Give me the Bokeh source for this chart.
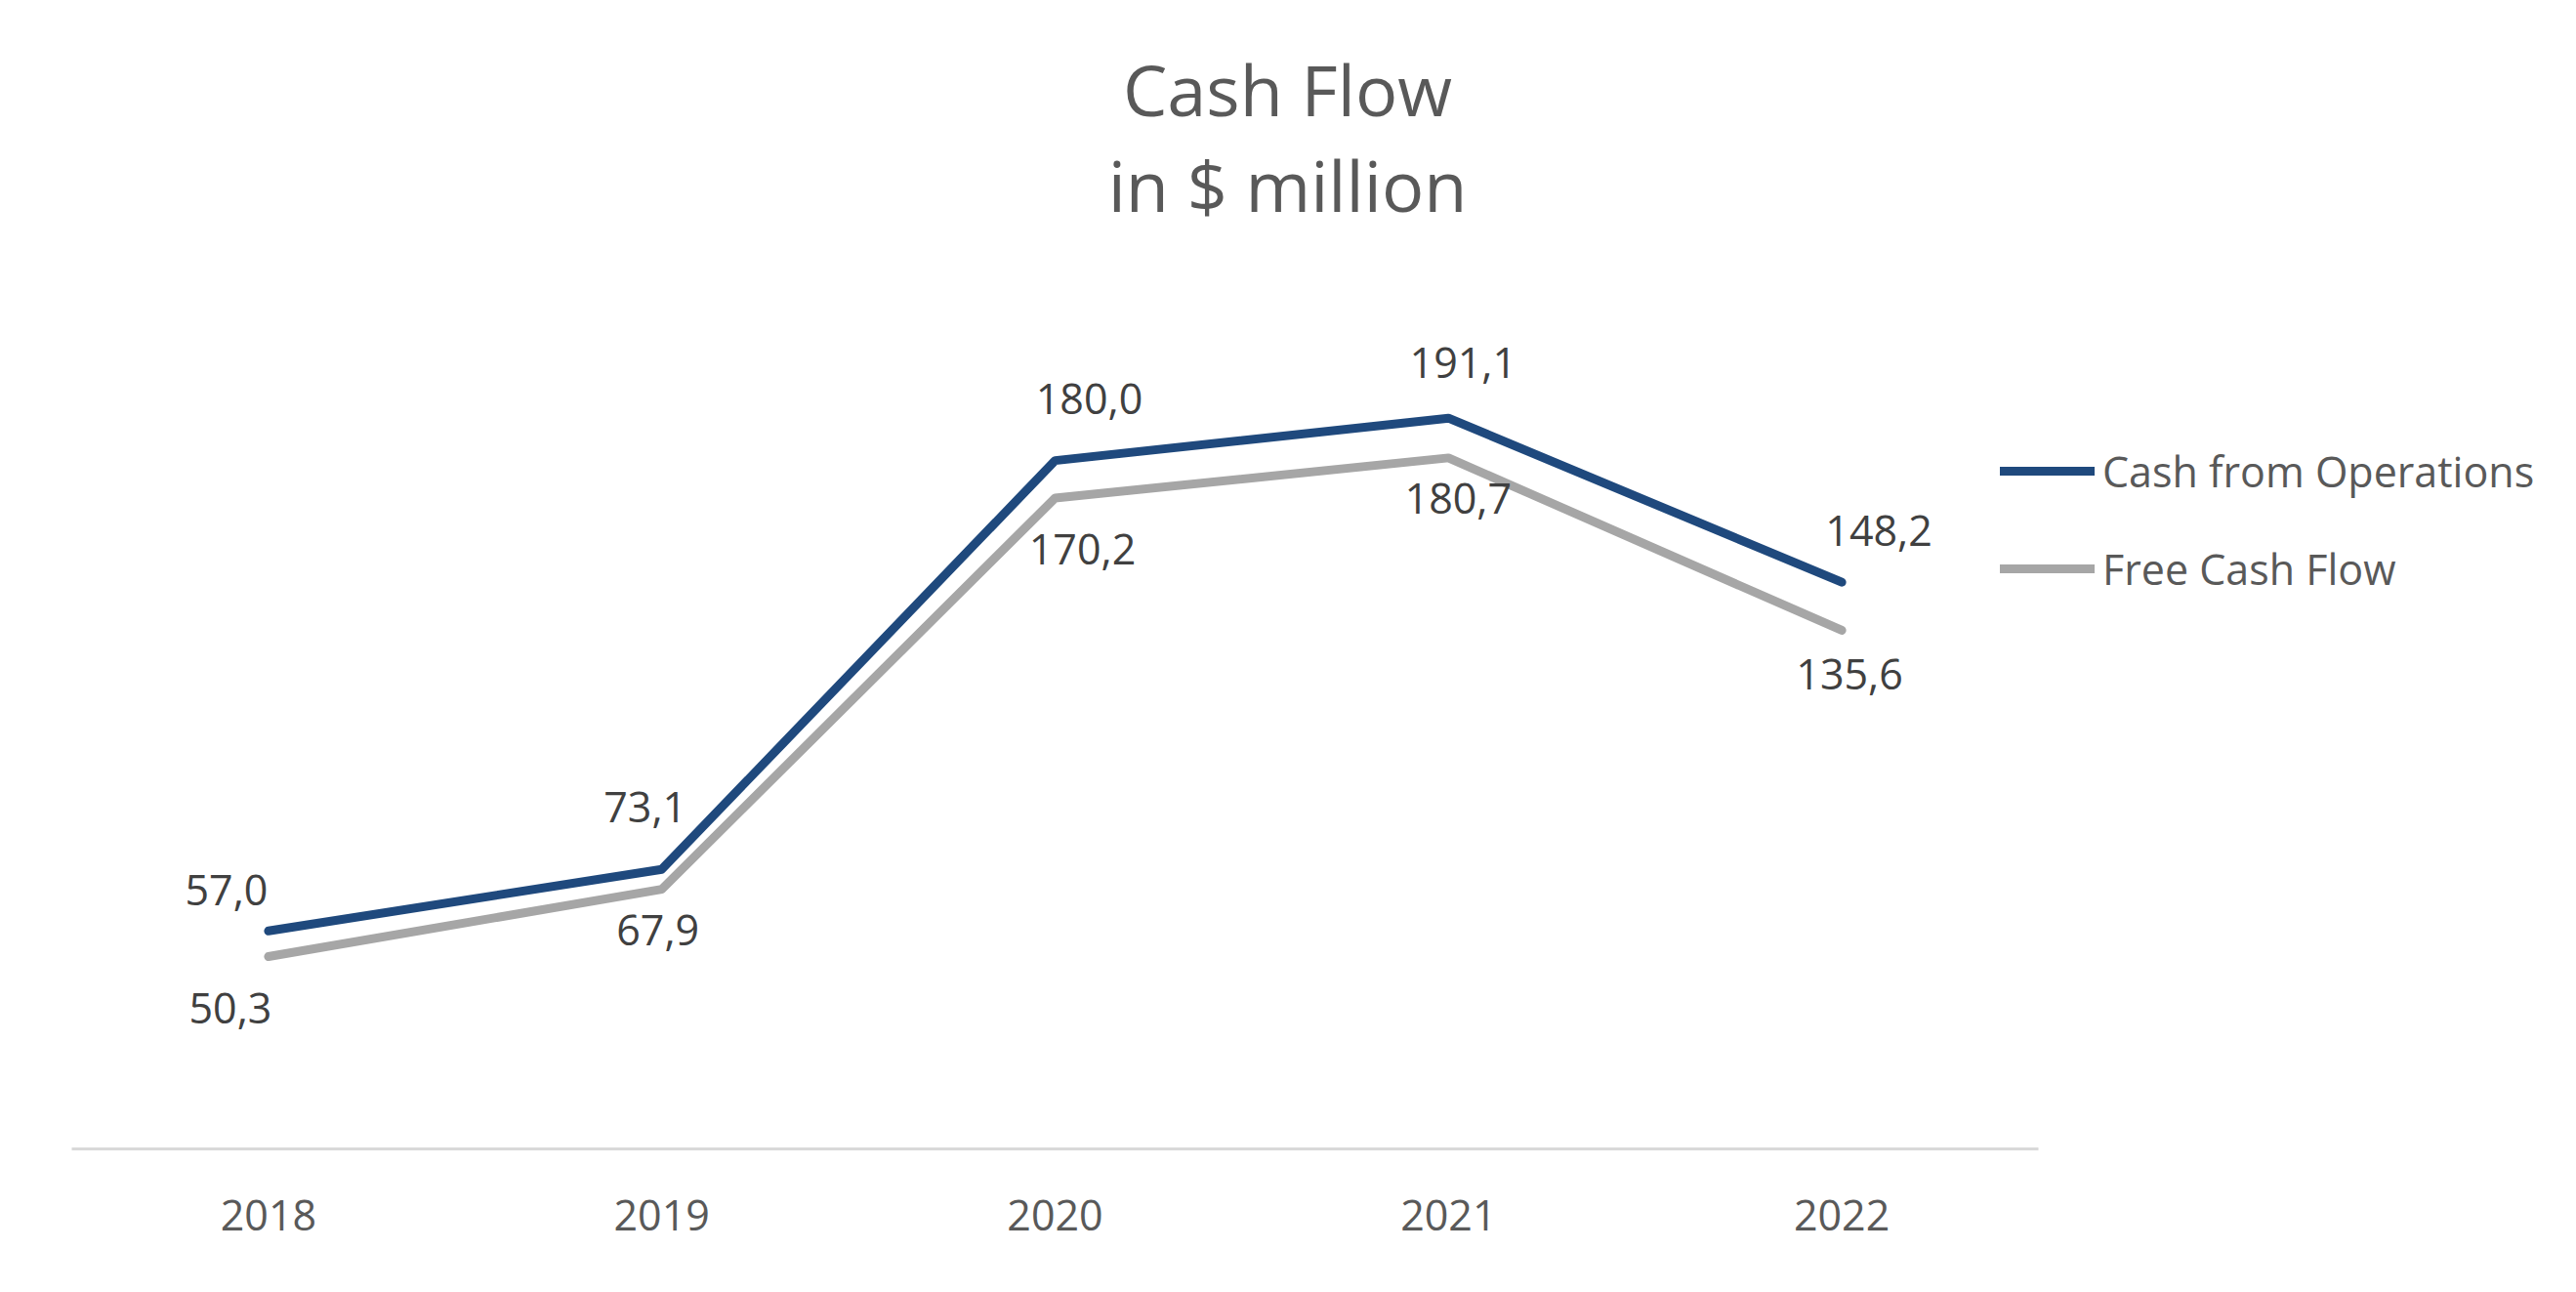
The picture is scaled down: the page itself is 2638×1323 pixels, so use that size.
from bokeh.plotting import figure
from bokeh.models import (ColumnDataSource, Range1d, Label, Legend, LegendItem, FixedTicker)
from bokeh.core.properties import value
from bokeh.embed import file_html
from bokeh.resources import INLINE

# ---- data ----
years = ["2018", "2019", "2020", "2021", "2022"]
cash_from_operations = [57.0, 73.1, 180.0, 191.1, 148.2]
free_cash_flow = [50.3, 67.9, 170.2, 180.7, 135.6]
series_names = ["Cash from Operations", "Free Cash Flow"]
title_lines = ["Cash Flow", "in $ million"]

# ---- style ----
FONT = "Open Sans"
BLUE = "#1F497D"
GREY = "#A6A6A6"
TEXT = "#595959"
LABEL = "#404040"

W, H = 2638, 1323
AXIS_Y = 1176            # pixel row of the category axis (from top)
BOTTOM = H - AXIS_Y
PLOT_L, PLOT_R = 73, 2087  # extent of the category axis line
n = len(years)
step = (PLOT_R - PLOT_L) / n
first = PLOT_L + step / 2
x_start = -first / step
x_end = x_start + W / step
k = 979 / 250            # pixels per $ million
y_end = AXIS_Y / k

p = figure(width=W, height=H, output_backend="svg", toolbar_location=None,
           x_range=Range1d(x_start, x_end), y_range=Range1d(0, y_end),
           y_axis_location=None,
           min_border_left=0, min_border_right=0, min_border_top=0,
           min_border_bottom=BOTTOM)
p.outline_line_color = None
p.xgrid.visible = False
p.ygrid.visible = False
p.background_fill_color = "white"
p.border_fill_color = "white"

idx = list(range(n))
ax = p.xaxis[0]
ax.ticker = FixedTicker(ticks=idx)
ax.major_label_overrides = {i: y for i, y in zip(idx, years)}
ax.bounds = (-0.5, n - 0.5)
ax.axis_line_color = "#D9D9D9"
ax.axis_line_width = 3
ax.major_tick_line_color = None
ax.minor_tick_line_color = None
ax.major_label_text_font = FONT
ax.major_label_text_font_size = "43px"
ax.major_label_text_color = TEXT
ax.major_label_standoff = 46

src = ColumnDataSource(dict(x=idx, cfo=cash_from_operations, fcf=free_cash_flow,
                            cfo_txt=[f"{v:.1f}".replace(".", ",") for v in cash_from_operations],
                            fcf_txt=[f"{v:.1f}".replace(".", ",") for v in free_cash_flow]))

r_fcf = p.line("x", "fcf", source=src, line_color=GREY, line_width=9,
               line_cap="round", line_join="round")
r_cfo = p.line("x", "cfo", source=src, line_color=BLUE, line_width=9,
               line_cap="round", line_join="round")

# label offsets (screen px, label centre relative to point; y down)
cfo_dx = [-43, -17, 35, 15, 38]
cfo_dy = [-40, -62, -61, -55, -51]
fcf_dx = [-39, -4, 28, 10, 8]
fcf_dy = [55, 44, 55, 44, 47]
shift = -2
src.data["cfo_dx"] = cfo_dx
src.data["cfo_dy"] = [d + shift for d in cfo_dy]
src.data["fcf_dx"] = fcf_dx
src.data["fcf_dy"] = [d + shift for d in fcf_dy]

p.text("x", "cfo", text="cfo_txt", source=src, x_offset="cfo_dx", y_offset="cfo_dy",
       text_font=value(FONT), text_font_size="43px", text_color=LABEL,
       text_align="center", text_baseline="alphabetic")
p.text("x", "fcf", text="fcf_txt", source=src, x_offset="fcf_dx", y_offset="fcf_dy",
       text_font=value(FONT), text_font_size="43px", text_color=LABEL,
       text_align="center", text_baseline="alphabetic")

# title (screen units, relative to frame bottom-left)
for line, base in zip(title_lines, [90, 188]):
    p.add_layout(Label(x=1318, y=AXIS_Y - base, x_units="screen", y_units="screen",
                       text=line, text_font=FONT, text_font_size="72px", text_color=TEXT,
                       text_align="center", text_baseline="alphabetic"))

legend = Legend(items=[LegendItem(label=series_names[0], renderers=[r_cfo]),
                       LegendItem(label=series_names[1], renderers=[r_fcf])],
                location=(2048, AXIS_Y - 612),
                orientation="vertical", padding=0, margin=0, spacing=40,
                glyph_width=97, glyph_height=60, label_height=60, label_standoff=8,
                label_text_font=FONT, label_text_font_size="43px", label_text_color=TEXT,
                border_line_color=None, background_fill_alpha=0)
p.add_layout(legend, "center")

open("out.html", "w").write(file_html(p, INLINE))
